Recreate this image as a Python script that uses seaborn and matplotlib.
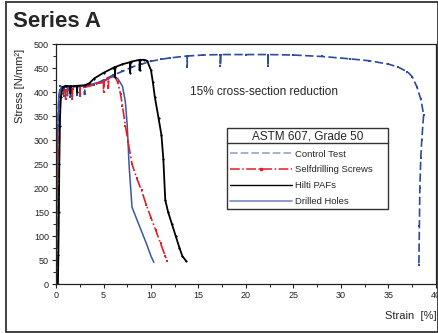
import pandas as pd
import matplotlib
matplotlib.use('Agg')
import matplotlib.pyplot as plt
import seaborn as sns
from matplotlib.lines import Line2D
from matplotlib.patches import Rectangle

# Odkształcenie [%] i naprężenie [N/mm2]
control_strain = [0.0, 0.05, 0.1, 0.15, 0.2, 0.3, 0.45, 0.8, 0.8, 0.85, 1.5, 1.5, 1.55, 2.2, 2.2, 2.25,
                  3.0, 3.0, 3.05, 4.0, 5.0, 6.0, 7.0, 8.0, 9.0, 10.0, 11.0, 12.0, 13.8, 13.8, 13.85,
                  15.5, 17.3, 17.3, 17.35, 20.0, 22.3, 22.3, 22.35, 25.0, 28.0, 31.0, 33.0, 35.0,
                  36.0, 37.0, 37.5, 38.0, 38.4, 38.7, 38.5, 38.4, 38.3, 38.25, 38.2]
control_stress = [0, 40, 120, 250, 330, 390, 412, 410, 392, 410, 408, 390, 410, 412, 393, 412,
                  413, 395, 413, 415, 425, 435, 443, 452, 458, 464, 468, 471, 475, 452, 475,
                  477, 478, 455, 478, 478, 478, 454, 478, 477, 474, 469, 465, 458,
                  452, 442, 432, 410, 385, 353, 300, 263, 200, 120, 40]

screws_strain = [0.15, 0.2, 0.25, 0.3, 0.35, 0.4, 0.5, 0.8, 1.0, 1.0, 1.05, 1.7, 1.7, 1.75, 2.5, 2.5,
                 2.55, 3.5, 4.5, 5.0, 5.0, 5.05, 5.5, 5.5, 5.55, 6.2, 6.5, 6.8, 7.0, 7.3, 7.6, 8.0,
                 8.5, 9.0, 9.5, 10.0, 10.5, 11.0, 11.5, 11.7]
screws_stress = [0, 50, 120, 200, 280, 350, 390, 400, 404, 385, 404, 405, 385, 406, 408, 392,
                 408, 412, 418, 420, 400, 422, 428, 408, 430, 432, 420, 395, 370, 330, 295, 250,
                 220, 195, 165, 138, 112, 85, 58, 48]

hilti_strain = [0.2, 0.25, 0.3, 0.35, 0.4, 0.5, 0.7, 1.0, 1.5, 1.5, 1.55, 2.2, 2.2, 2.25, 3.0, 3.5,
                4.0, 5.0, 6.0, 6.2, 6.2, 6.25, 7.0, 7.8, 7.8, 7.85, 8.8, 8.8, 8.85, 9.3, 9.6, 10.0,
                10.2, 10.4, 10.8, 11.1, 11.3, 11.5, 11.8, 12.2, 12.6, 13.0, 13.3, 13.7]
hilti_stress = [0, 60, 150, 250, 330, 390, 410, 413, 412, 398, 412, 413, 400, 413, 414, 418,
                428, 440, 450, 452, 432, 452, 458, 462, 440, 463, 467, 445, 467, 467, 465, 445,
                420, 390, 345, 310, 260, 175, 150, 125, 100, 75, 58, 48]

holes_strain = [0.0, 0.05, 0.1, 0.15, 0.2, 0.3, 0.5, 1.0, 1.2, 1.2, 1.25, 2.5, 2.5, 2.55, 3.5, 4.5,
                5.5, 6.0, 6.5, 7.0, 7.3, 7.5, 7.7, 8.0, 8.5, 9.0, 9.5, 10.0, 10.3]
holes_stress = [10, 60, 150, 250, 330, 390, 408, 410, 410, 392, 410, 412, 395, 412, 415, 420,
                428, 432, 428, 412, 380, 330, 245, 160, 135, 110, 85, 58, 45]

series_names = ['Control Test', 'Selfdrilling Screws', 'Hilti PAFs', 'Drilled Holes']

sns.set_style('ticks')
plt.rcParams['font.family'] = ['Liberation Sans', 'DejaVu Sans']

fig = plt.figure(figsize=(4.39, 3.33), dpi=100)
ax = fig.add_axes([56 / 439, 1 - 284 / 333, 380 / 439, 240 / 333])

# Kolejno rysowane serie
def draw(x, y, **kw):
    df = pd.DataFrame({'strain': x, 'stress': y})
    sns.lineplot(data=df, x='strain', y='stress', sort=False, estimator=None, ax=ax, **kw)

draw(control_strain, control_stress, color='#2d4b9b', linestyle=(0, (5, 2)), linewidth=1.2,
     marker='s', markersize=2, markeredgewidth=0)
draw(holes_strain, holes_stress, color='#3a56a8', linestyle='-', linewidth=1.1)
draw(screws_strain, screws_stress, color='#e41e26', linestyle='-.', linewidth=1.2,
     marker='s', markersize=2, markeredgewidth=0)
draw(hilti_strain, hilti_stress, color='black', linestyle='-', linewidth=1.3,
     marker='o', markersize=1.6, markeredgewidth=0, markerfacecolor='black')

ax.set_xlim(0, 40)
ax.set_ylim(0, 500)
ax.set_xticks(range(0, 41, 5))
ax.set_yticks(range(0, 501, 50))
ax.set_xticks([x + 2.5 for x in range(0, 40, 5)], minor=True)
ax.set_yticks([y + 25 for y in range(0, 500, 50)], minor=True)
ax.set_xlabel('')
ax.set_ylabel('')
ax.tick_params(which='major', direction='out', length=3, width=0.8, labelsize=6.5, pad=2,
               colors='#222222')
ax.tick_params(which='minor', direction='out', length=2, width=0.7)
for s in ax.spines.values():
    s.set_linewidth(0.9)
    s.set_color('#222222')
    s.set_visible(True)

ax.text(14.1, 401, '15% cross-section reduction', fontsize=8.5, va='center', ha='left')

# Legenda z własnymi uchwytami
handles = [
    Line2D([], [], color='#8b9bd0', linestyle=(0, (5, 2)), linewidth=1.1),
    Line2D([], [], color='#e41e26', linestyle='-.', linewidth=1.1, marker='s', markersize=2,
           markevery=[1, 2, 3]),
    Line2D([], [], color='black', linewidth=1.0),
    Line2D([], [], color='#7f95cc', linewidth=1.3),
]
leg = ax.legend(handles, series_names, title='ASTM 607, Grade 50', loc='upper left',
                bbox_to_anchor=((227 - 56) / 380, (284 - 209) / 240, 161 / 380, 81 / 240),
                mode='expand', borderaxespad=0, fontsize=6.8, title_fontsize=8.5,
                handlelength=6.6, handletextpad=0.3, labelspacing=0.72, borderpad=0.3,
                fancybox=False, framealpha=1, edgecolor='#333333')
leg.get_frame().set_linewidth(1.0)
ax.add_line(Line2D([(227 - 56) / 380, (388 - 56) / 380], [(284 - 143) / 240] * 2,
                   transform=ax.transAxes, color='#333333', linewidth=1.0, zorder=10,
                   clip_on=False))

fig.text(13 / 439, 1 - 27 / 333, 'Series A', fontsize=16, fontweight='bold', va='baseline')
fig.text(20 / 439, 1 - 86 / 333, 'Stress [N/mm²]', fontsize=8, rotation=90,
         ha='center', va='center')
fig.text(437 / 439, 1 - 316 / 333, 'Strain  [%]', fontsize=8, ha='right', va='center')

fig.add_artist(Rectangle((6 / 439, 1 - 331.5 / 333), (438 - 6) / 439, 329.5 / 333,
                         transform=fig.transFigure, fill=False, edgecolor='#333333',
                         linewidth=1.3))

fig.savefig('out.png', dpi=100)
